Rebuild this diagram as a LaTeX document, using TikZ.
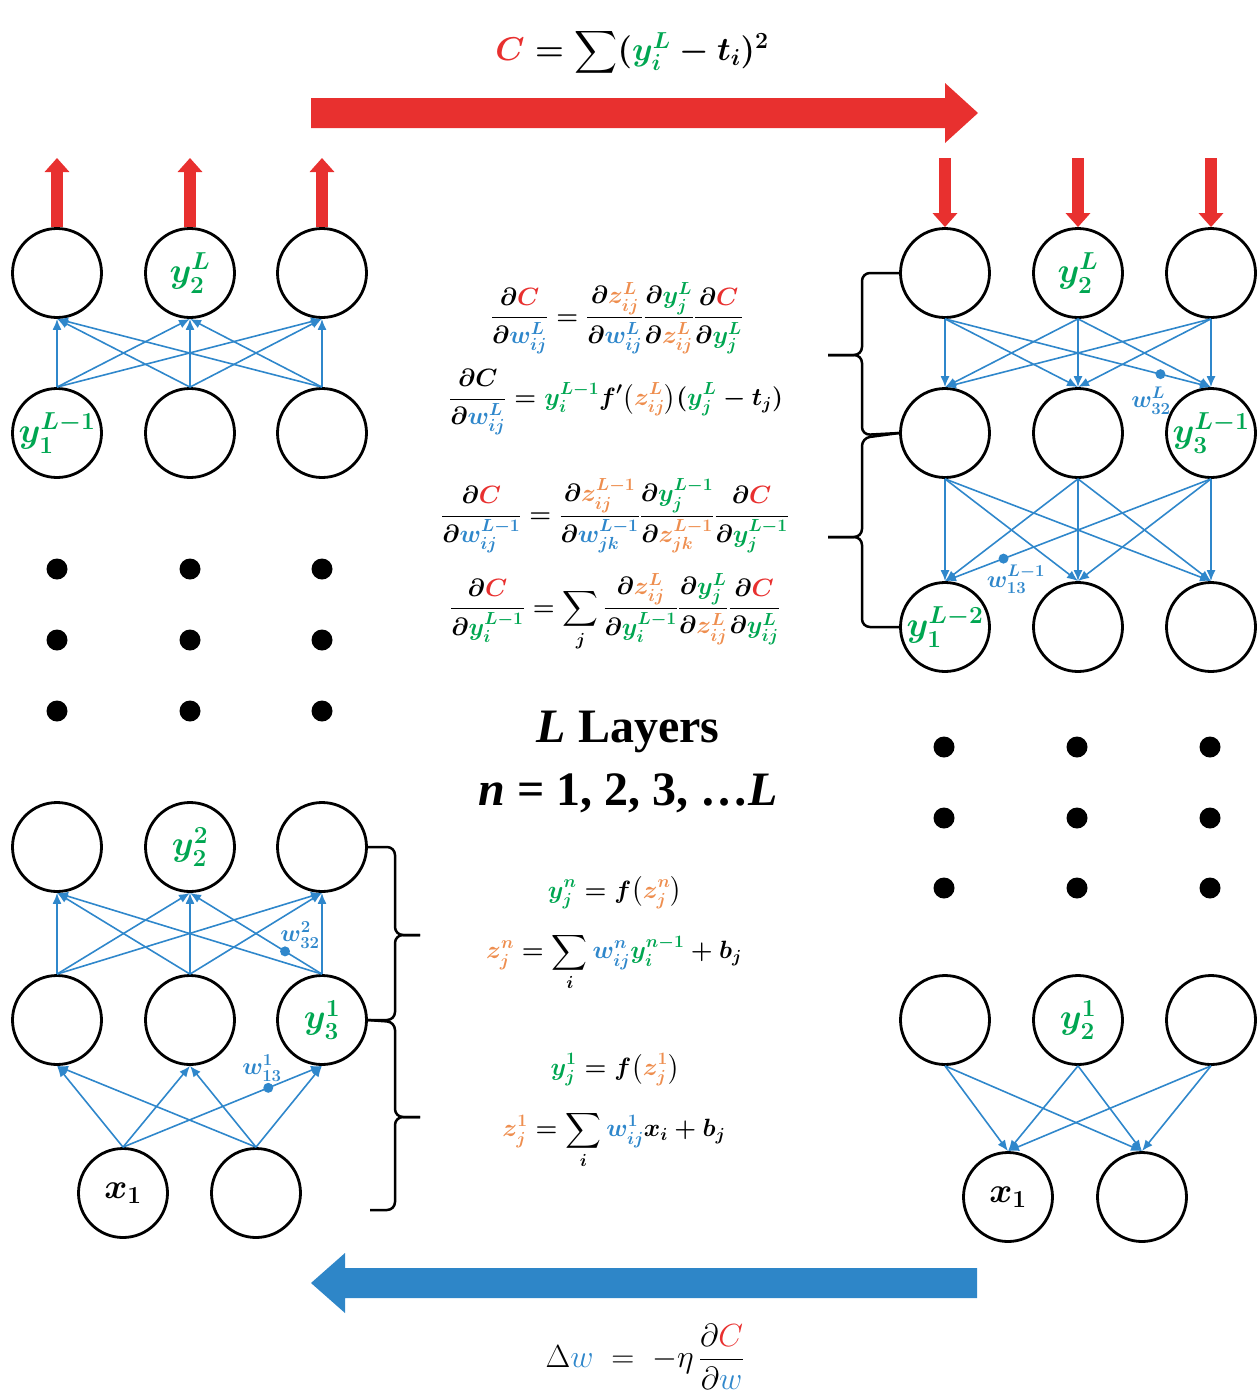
\RequirePackage{fix-cm}
\documentclass[tikz,border=0pt]{standalone}
\usepackage{amsmath}
\usepackage{graphicx}
\usepackage[no-math]{fontspec}
\setmainfont{Liberation Serif}
\usetikzlibrary{arrows.meta}
\definecolor{cred}{HTML}{E8302F}
\definecolor{cgreen}{HTML}{00A651}
\definecolor{corange}{HTML}{EE8E4F}
\definecolor{cblue}{HTML}{2F87CB}
\definecolor{cbigblue}{HTML}{2E86C8}
\newcommand{\colR}[1]{\textcolor{cred}{#1}}
\newcommand{\colG}[1]{\textcolor{cgreen}{#1}}
\newcommand{\colO}[1]{\textcolor{corange}{#1}}
\newcommand{\colB}[1]{\textcolor{cblue}{#1}}
\begin{document}
\begin{tikzpicture}[x=1pt,y=-1pt,
 neuron/.style={circle,draw=black,line width=2.8pt,minimum size=89pt,inner sep=0pt,font=\fontsize{35}{38}\selectfont\boldmath},
 wedge/.style={draw=cblue,line width=1.6pt,-{Latex[length=11pt,width=9pt]}},
 redarr/.style={draw=cred,line width=12pt,-{Triangle[length=14pt,width=24pt]}},
 bigdot/.style={circle,fill=black,minimum size=21pt,inner sep=0pt},
 wdot/.style={circle,fill=cblue,minimum size=10pt,inner sep=0pt},
 wlab/.style={text=cblue,font=\fontsize{24}{26}\selectfont\boldmath,inner sep=0pt},
 eqn/.style={font=\fontsize{25}{28}\selectfont\boldmath,inner sep=0pt},
 bracepath/.style={draw=black,line width=2.5pt,rounded corners=8pt}
]
\useasboundingbox (0,0) rectangle (1260,1398);
% big arrows
\fill[cred] (311,98) -- (945,98) -- (945,83) -- (978,113) -- (945,143) -- (945,128) -- (311,128) -- cycle;
\fill[cbigblue] (977,1268) -- (345,1268) -- (345,1253) -- (311,1283) -- (345,1313) -- (345,1298) -- (977,1298) -- cycle;
\node[font=\fontsize{33}{36}\selectfont\boldmath] (cost) at (632,52) {$\colR{C} = \vcenter{\hbox{\scalebox{1.2}{$\displaystyle\sum$}}}(\colG{y^L_i} - t_i)^2$};
\node[font=\fontsize{32}{36}\selectfont] (dw) at (645,1357) {$\Delta\colB{w} \;=\; -\eta\,\dfrac{\partial\colR{C}}{\partial\colB{w}}$};

% ---------- left top network
\node[neuron] (LA1) at (57,273) {};
\node[neuron] (LA2) at (190,273) {$\colG{y^L_2}$};
\node[neuron] (LA3) at (322,273) {};
\node[neuron] (LB1) at (57,433) {$\colG{y^{L-1}_1}$};
\node[neuron] (LB2) at (190,433) {};
\node[neuron] (LB3) at (322,433) {};
\foreach \i in {1,2,3} \foreach \j in {1,2,3} \draw[wedge] (LB\i.north) -- (LA\j.south);
\foreach \i/\x in {1/57,2/190,3/322} {
  \coordinate (LU\i) at (\x,158);
  \draw[redarr] (LA\i.north) -- (LU\i);
}
\foreach \x in {57,190,322} \foreach \y in {569,640,711} \node[bigdot] (dL-\x-\y) at (\x,\y) {};

% ---------- left bottom network
\node[neuron] (LC1) at (57,847) {};
\node[neuron] (LC2) at (190,847) {$\colG{y^2_2}$};
\node[neuron] (LC3) at (322,847) {};
\node[neuron] (LD1) at (57,1020) {};
\node[neuron] (LD2) at (190,1020) {};
\node[neuron] (LD3) at (322,1020) {$\colG{y^1_3}$};
\node[neuron] (LE1) at (123,1193) {$x_1$};
\node[neuron] (LE2) at (256,1193) {};
\foreach \i in {1,2,3} \foreach \j in {1,2,3} \draw[wedge] (LD\i.north) -- (LC\j.south);
\foreach \i in {1,2} \foreach \j in {1,2,3} \draw[wedge] (LE\i.north) -- (LD\j.south);
\path (LE1.north) -- (LD3.south) node[wdot,pos=0.73] (wd1) {};
\path (LD3.north) -- (LC2.south) node[wdot,pos=0.28] (wd2) {};
\node[wlab] (wl1) at (262,1068) {$w^1_{13}$};
\node[wlab] (wl2) at (300,935) {$w^2_{32}$};
\draw[bracepath] (LC3.east) -- (395,847) -- (395,935) -- (420,935);
\draw[bracepath] (420,935) -- (395,935) -- (395,1020) -- (LD3.east);
\draw[bracepath] (LD3.east) -- (395,1022) -- (395,1117) -- (420,1117);
\draw[bracepath] (420,1117) -- (395,1117) -- (395,1210) -- (370,1210);

% ---------- right top network
\node[neuron] (RA1) at (945,273) {};
\node[neuron] (RA2) at (1078,273) {$\colG{y^L_2}$};
\node[neuron] (RA3) at (1211,273) {};
\node[neuron] (RB1) at (945,433) {};
\node[neuron] (RB2) at (1078,433) {};
\node[neuron] (RB3) at (1211,433) {$\colG{y^{L-1}_3}$};
\node[neuron] (RC1) at (945,627) {$\colG{y^{L-2}_1}$};
\node[neuron] (RC2) at (1078,627) {};
\node[neuron] (RC3) at (1211,627) {};
\foreach \i/\x in {1/945,2/1078,3/1211} {
  \coordinate (RU\i) at (\x,158);
  \draw[redarr] (RU\i) -- (RA\i.north);
}
\foreach \i in {1,2,3} \foreach \j in {1,2,3} \draw[wedge] (RA\i.south) -- (RB\j.north);
\foreach \i in {1,2,3} \foreach \j in {1,2,3} \draw[wedge] (RB\i.south) -- (RC\j.north);
\path (RA1.south) -- (RB3.north) node[wdot,pos=0.81] (wd3) {};
\path (RB3.south) -- (RC1.north) node[wdot,pos=0.78] (wd4) {};
\node[wlab] (wl3) at (1151,401) {$w^L_{32}$};
\node[wlab] (wl4) at (1016,579) {$w^{L-1}_{13}$};
\draw[bracepath] (RA1.west) -- (862,273) -- (862,355) -- (828,355);
\draw[bracepath] (828,355) -- (862,355) -- (862,435) -- (RB1.west);
\draw[bracepath] (RB1.west) -- (862,438) -- (862,537) -- (828,537);
\draw[bracepath] (828,537) -- (862,537) -- (862,627) -- (RC1.west);
\foreach \x in {944,1077,1210} \foreach \y in {747,818,888} \node[bigdot] (dR-\x-\y) at (\x,\y) {};

% ---------- right bottom network
\node[neuron] (RD1) at (945,1020) {};
\node[neuron] (RD2) at (1078,1020) {$\colG{y^1_2}$};
\node[neuron] (RD3) at (1211,1020) {};
\node[neuron] (RE1) at (1008,1197) {$x_1$};
\node[neuron] (RE2) at (1142,1197) {};
\foreach \i in {1,2,3} \foreach \j in {1,2} \draw[wedge] (RD\i.south) -- (RE\j.north);

% ---------- equations
\node[eqn] (e1) at (617,318) {$\displaystyle\frac{\partial \colR{C}}{\partial \colB{w^L_{ij}}} = \frac{\partial \colO{z^L_{ij}}}{\partial \colB{w^L_{ij}}}\frac{\partial \colG{y^L_j}}{\partial \colO{z^L_{ij}}}\frac{\partial \colR{C}}{\partial \colG{y^L_j}}$};
\node[eqn] (e2) at (616,402) {$\displaystyle\frac{\partial C}{\partial \colB{w^L_{ij}}} = \colG{y^{L-1}_i} f'\big(\colO{z^L_{ij}}\big)(\colG{y^L_j} - t_j)$};
\node[eqn] (e3) at (615,516) {$\displaystyle\frac{\partial \colR{C}}{\partial \colB{w^{L-1}_{ij}}} = \frac{\partial \colO{z^{L-1}_{ij}}}{\partial \colB{w^{L-1}_{jk}}}\frac{\partial \colG{y^{L-1}_j}}{\partial \colO{z^{L-1}_{jk}}}\frac{\partial \colR{C}}{\partial \colG{y^{L-1}_j}}$};
\node[eqn] (e4) at (615,612) {$\displaystyle\frac{\partial \colR{C}}{\partial \colG{y^{L-1}_i}} = \sum_j \frac{\partial \colO{z^L_{ij}}}{\partial \colG{y^{L-1}_i}}\frac{\partial \colG{y^L_j}}{\partial \colO{z^L_{ij}}}\frac{\partial \colR{C}}{\partial \colG{y^L_{ij}}}$};

\node[font=\fontsize{48}{52}\selectfont\bfseries] (layers) at (628,732) {\textit{L} Layers};
\node[font=\fontsize{48}{52}\selectfont\bfseries] (nrange) at (628,793) {\textit{n} = 1, 2, 3, …\textit{L}};

\node[eqn] (e5) at (615,893) {$\displaystyle\colG{y^n_j} = f\big(\colO{z^n_j}\big)$};
\node[eqn] (e6) at (614,962) {$\displaystyle\colO{z^n_j} = \sum_i \colB{w^n_{ij}}\colG{y^{n-1}_i} + b_j$};
\node[eqn] (e7) at (615,1070) {$\displaystyle\colG{y^1_j} = f\big(\colO{z^1_j}\big)$};
\node[eqn] (e8) at (614,1140) {$\displaystyle\colO{z^1_j} = \sum_i \colB{w^1_{ij}} x_i + b_j$};
\end{tikzpicture}
\end{document}
